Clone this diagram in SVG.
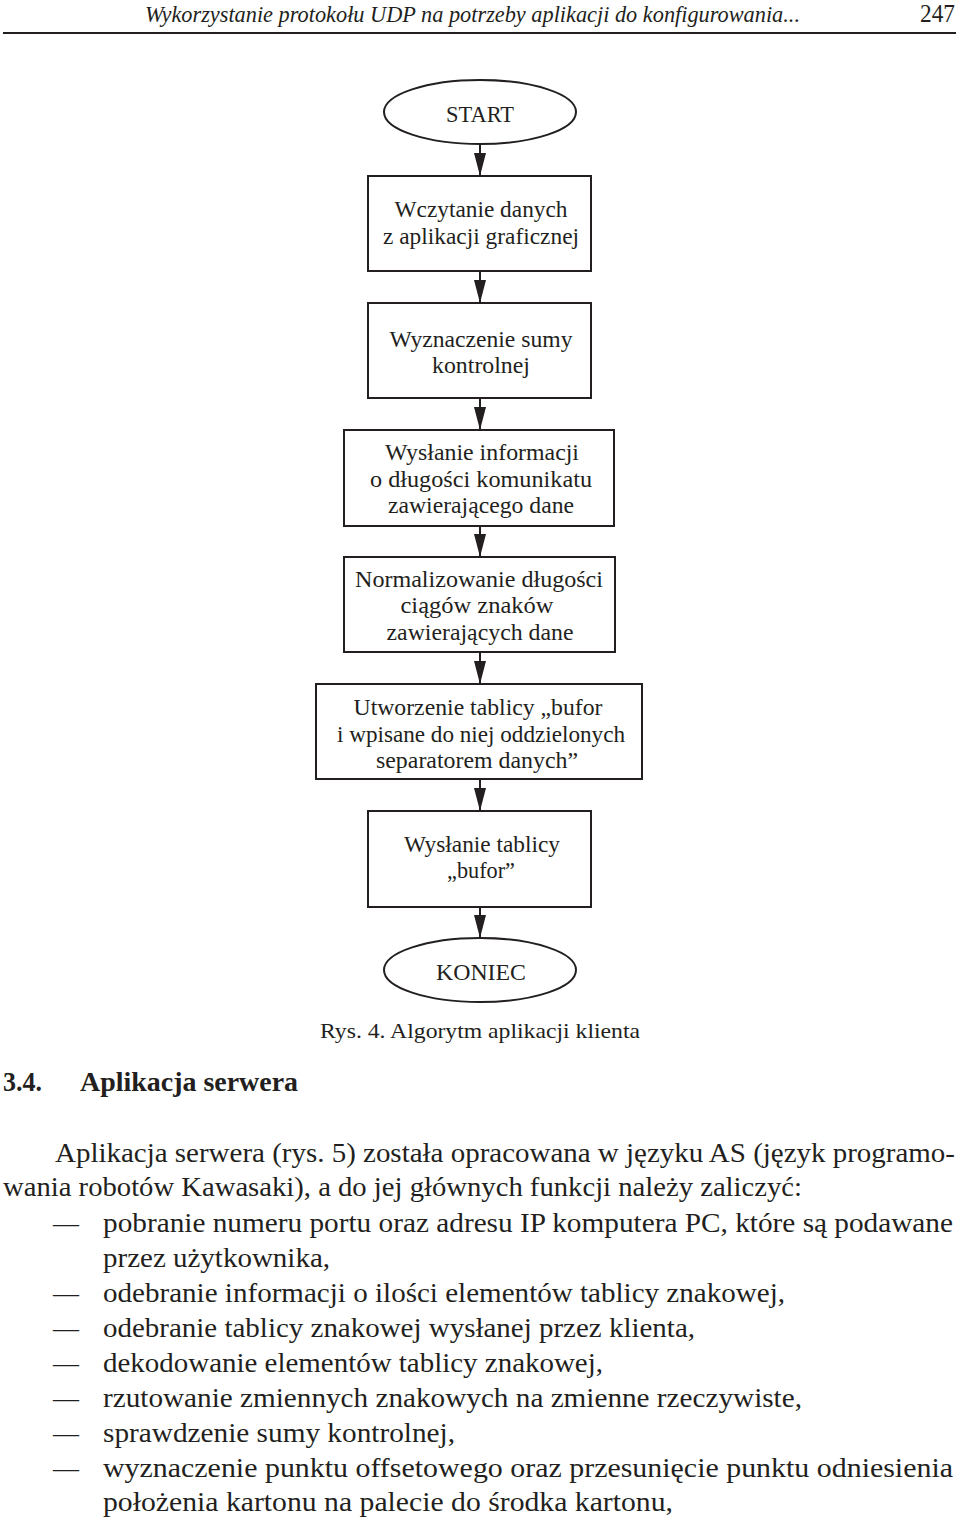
<svg xmlns="http://www.w3.org/2000/svg" width="960" height="1523" viewBox="0 0 960 1523">
<style>
.bg{fill:#ffffff}
.shape{fill:#ffffff;stroke:#231f20;stroke-width:2}
.conn{stroke:#231f20;stroke-width:2;fill:none}
.fc{font-family:"Liberation Serif","DejaVu Serif",serif;font-size:23px;fill:#231f20;text-anchor:middle}
.body{font-family:"Liberation Serif","DejaVu Serif",serif;font-size:28px;fill:#231f20}
.hdr{font-family:"Liberation Serif","DejaVu Serif",serif;font-size:24px;font-style:italic;fill:#231f20}
.pg{font-family:"Liberation Serif","DejaVu Serif",serif;font-size:25px;fill:#231f20}
.h2{font-family:"Liberation Serif","DejaVu Serif",serif;font-size:27px;font-weight:bold;fill:#231f20}
.cap{font-family:"Liberation Serif","DejaVu Serif",serif;font-size:21px;fill:#231f20}
</style>
<defs>
<marker id="arr" markerUnits="userSpaceOnUse" markerWidth="23" markerHeight="12" viewBox="0 0 23 12" refX="23" refY="6" orient="auto">
<path d="M0,0 L23,6 L0,12 z" fill="#231f20"/>
</marker>
</defs>
<rect class="bg" x="0" y="0" width="960" height="1523"/>

<g id="header">
<text class="hdr" x="145" y="22" textLength="655" lengthAdjust="spacingAndGlyphs">Wykorzystanie protokołu UDP na potrzeby aplikacji do konfigurowania...</text>
<text class="pg" x="920" y="22" textLength="35" lengthAdjust="spacingAndGlyphs">247</text>
<line x1="3" y1="33" x2="956" y2="33" stroke="#231f20" stroke-width="2"/>
</g>

<g id="connectors">
<line class="conn" x1="480" y1="144" x2="480" y2="176" marker-end="url(#arr)"/>
<line class="conn" x1="480" y1="271" x2="480" y2="303" marker-end="url(#arr)"/>
<line class="conn" x1="480" y1="398" x2="480" y2="430" marker-end="url(#arr)"/>
<line class="conn" x1="480" y1="526" x2="480" y2="557" marker-end="url(#arr)"/>
<line class="conn" x1="480" y1="652" x2="480" y2="684" marker-end="url(#arr)"/>
<line class="conn" x1="480" y1="779" x2="480" y2="811" marker-end="url(#arr)"/>
<line class="conn" x1="480" y1="907" x2="480" y2="938" marker-end="url(#arr)"/>
</g>

<g id="start">
<ellipse class="shape" cx="480" cy="112" rx="96" ry="32"/>
<text class="fc" x="480" y="122" textLength="68" lengthAdjust="spacingAndGlyphs">START</text>
</g>

<g id="n1">
<rect class="shape" x="368" y="176" width="223" height="95"/>
<text class="fc" x="481" y="217" textLength="173" lengthAdjust="spacingAndGlyphs">Wczytanie danych</text>
<text class="fc" x="481" y="244" textLength="196" lengthAdjust="spacingAndGlyphs">z aplikacji graficznej</text>
</g>

<g id="n2">
<rect class="shape" x="368" y="303" width="223" height="95"/>
<text class="fc" x="481" y="347" textLength="183" lengthAdjust="spacingAndGlyphs">Wyznaczenie sumy</text>
<text class="fc" x="481" y="373" textLength="98" lengthAdjust="spacingAndGlyphs">kontrolnej</text>
</g>

<g id="n3">
<rect class="shape" x="344" y="430" width="270" height="96"/>
<text class="fc" x="482" y="460" textLength="194" lengthAdjust="spacingAndGlyphs">Wysłanie informacji</text>
<text class="fc" x="481" y="487" textLength="222" lengthAdjust="spacingAndGlyphs">o długości komunikatu</text>
<text class="fc" x="481" y="513" textLength="186" lengthAdjust="spacingAndGlyphs">zawierającego dane</text>
</g>

<g id="n4">
<rect class="shape" x="344" y="557" width="271" height="95"/>
<text class="fc" x="479" y="587" textLength="248" lengthAdjust="spacingAndGlyphs">Normalizowanie długości</text>
<text class="fc" x="477" y="613" textLength="153" lengthAdjust="spacingAndGlyphs">ciągów znaków</text>
<text class="fc" x="480" y="640" textLength="187" lengthAdjust="spacingAndGlyphs">zawierających dane</text>
</g>

<g id="n5">
<rect class="shape" x="316" y="684" width="326" height="95"/>
<text class="fc" x="478" y="715" textLength="249" lengthAdjust="spacingAndGlyphs">Utworzenie tablicy „bufor</text>
<text class="fc" x="481" y="742" textLength="288" lengthAdjust="spacingAndGlyphs">i wpisane do niej oddzielonych</text>
<text class="fc" x="477" y="768" textLength="202" lengthAdjust="spacingAndGlyphs">separatorem danych”</text>
</g>

<g id="n6">
<rect class="shape" x="368" y="811" width="223" height="96"/>
<text class="fc" x="482" y="852" textLength="156" lengthAdjust="spacingAndGlyphs">Wysłanie tablicy</text>
<text class="fc" x="481" y="878" textLength="68" lengthAdjust="spacingAndGlyphs">„bufor”</text>
</g>

<g id="end">
<ellipse class="shape" cx="480" cy="970" rx="96" ry="32"/>
<text class="fc" x="481" y="980" textLength="90" lengthAdjust="spacingAndGlyphs">KONIEC</text>
</g>

<g id="caption">
<text class="cap" x="320" y="1038" textLength="320" lengthAdjust="spacingAndGlyphs">Rys. 4. Algorytm aplikacji klienta</text>
</g>

<g id="section">
<text class="h2" x="3" y="1091" textLength="39" lengthAdjust="spacingAndGlyphs">3.4.</text>
<text class="h2" x="80" y="1091" textLength="218" lengthAdjust="spacingAndGlyphs">Aplikacja serwera</text>
</g>

<g id="paragraph">
<text class="body" x="55" y="1162" textLength="900" lengthAdjust="spacingAndGlyphs">Aplikacja serwera (rys. 5) została opracowana w języku AS (język programo-</text>
<text class="body" x="3" y="1196" textLength="799" lengthAdjust="spacingAndGlyphs">wania robotów Kawasaki), a do jej głównych funkcji należy zaliczyć:</text>
<text class="body" x="53" y="1232" textLength="26" lengthAdjust="spacingAndGlyphs">—</text>
<text class="body" x="103" y="1232" textLength="850" lengthAdjust="spacingAndGlyphs">pobranie numeru portu oraz adresu IP komputera PC, które są podawane</text>
<text class="body" x="103" y="1267" textLength="227" lengthAdjust="spacingAndGlyphs">przez użytkownika,</text>
<text class="body" x="53" y="1302" textLength="26" lengthAdjust="spacingAndGlyphs">—</text>
<text class="body" x="103" y="1302" textLength="682" lengthAdjust="spacingAndGlyphs">odebranie informacji o ilości elementów tablicy znakowej,</text>
<text class="body" x="53" y="1337" textLength="26" lengthAdjust="spacingAndGlyphs">—</text>
<text class="body" x="103" y="1337" textLength="592" lengthAdjust="spacingAndGlyphs">odebranie tablicy znakowej wysłanej przez klienta,</text>
<text class="body" x="53" y="1372" textLength="26" lengthAdjust="spacingAndGlyphs">—</text>
<text class="body" x="103" y="1372" textLength="500" lengthAdjust="spacingAndGlyphs">dekodowanie elementów tablicy znakowej,</text>
<text class="body" x="53" y="1407" textLength="26" lengthAdjust="spacingAndGlyphs">—</text>
<text class="body" x="103" y="1407" textLength="699" lengthAdjust="spacingAndGlyphs">rzutowanie zmiennych znakowych na zmienne rzeczywiste,</text>
<text class="body" x="53" y="1442" textLength="26" lengthAdjust="spacingAndGlyphs">—</text>
<text class="body" x="103" y="1442" textLength="352" lengthAdjust="spacingAndGlyphs">sprawdzenie sumy kontrolnej,</text>
<text class="body" x="53" y="1477" textLength="26" lengthAdjust="spacingAndGlyphs">—</text>
<text class="body" x="103" y="1477" textLength="850" lengthAdjust="spacingAndGlyphs">wyznaczenie punktu offsetowego oraz przesunięcie punktu odniesienia</text>
<text class="body" x="103" y="1511" textLength="570" lengthAdjust="spacingAndGlyphs">położenia kartonu na palecie do środka kartonu,</text>
</g>
</svg>
